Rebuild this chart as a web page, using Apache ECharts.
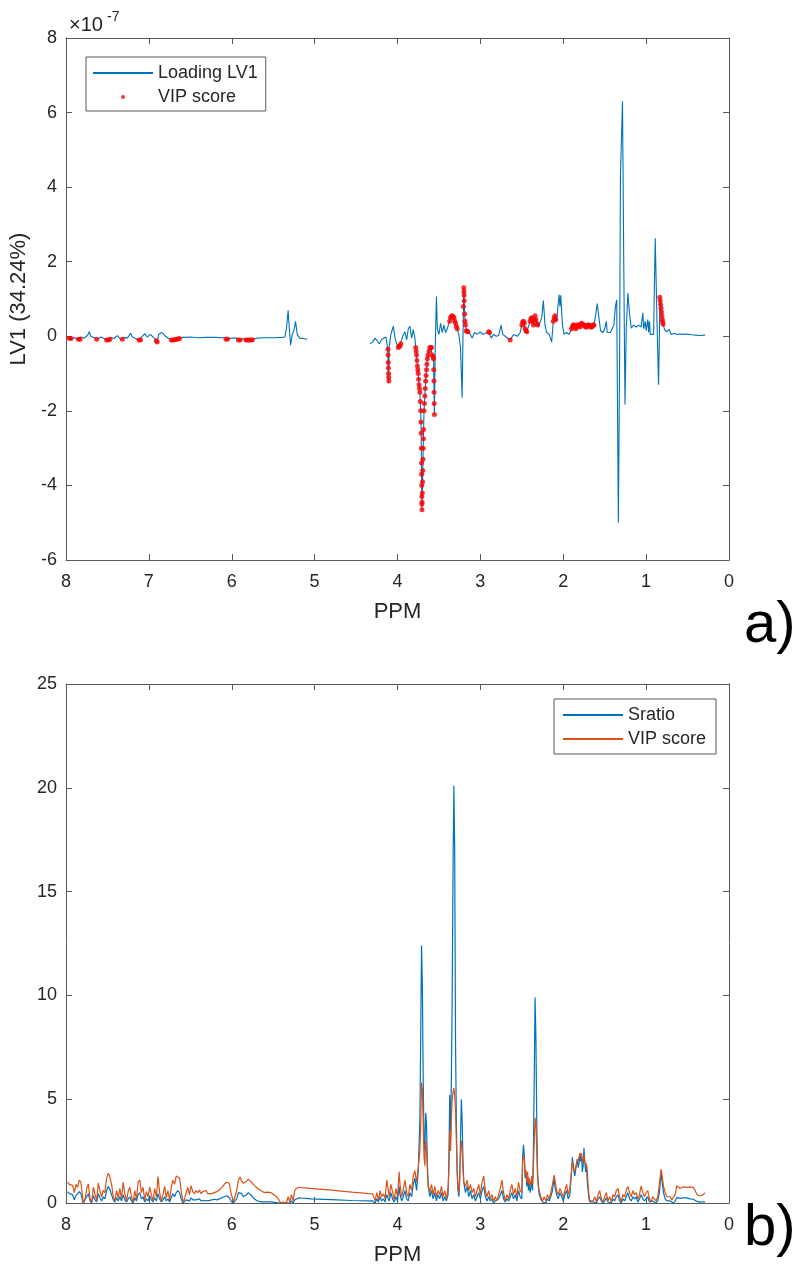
<!DOCTYPE html>
<html>
<head>
<meta charset="utf-8">
<script src="https://cdn.jsdelivr.net/npm/echarts@6/dist/echarts.min.js"></script>
<style>
html,body{margin:0;padding:0;background:#fff;}
#chart{width:802px;height:1267px;}
</style>
</head>
<body>
<div id="chart"></div>
<script>
// ---------- Panel a) : Loading LV1 (values in units of 1e-7) ----------
const lvPpm = [7.98,7.94,7.90,7.86,7.82,7.78,7.74,7.72,7.70,7.66,7.62,7.58,7.54,7.50,7.46,7.42,7.38,7.34,7.30,7.26,7.22,7.20,7.16,7.12,7.08,7.05,7.02,6.98,6.94,6.90,6.88,6.84,6.80,6.76,6.72,6.68,6.64,6.60,6.55,6.50,6.40,6.30,6.20,6.10,6.06,6.00,5.94,5.90,5.86,5.82,5.78,5.74,5.70,5.60,5.50,5.40,5.36,5.34,5.32,5.31,5.29,5.27,5.25,5.23,5.21,5.18,5.14,5.09,
  4.70,
  4.33,4.30,4.27,4.25,4.22,4.19,4.17,4.14,4.12,4.115,4.11,4.105,4.10,4.08,4.05,4.03,4.01,3.99,3.97,3.95,3.93,3.91,3.89,3.87,3.85,3.83,3.81,3.79,3.78,3.77,3.76,3.75,3.74,3.73,3.72,3.715,3.705,3.70,3.69,3.68,3.67,3.66,3.65,3.64,3.62,3.60,3.58,3.565,3.555,3.545,3.53,3.52,3.50,3.48,3.46,3.44,3.42,3.40,3.38,3.36,3.34,3.32,3.30,3.28,3.26,3.24,3.22,3.21,3.20,3.195,3.19,3.18,3.17,3.15,3.12,3.10,3.07,3.04,3.00,2.97,2.94,2.90,2.87,2.84,2.81,2.78,2.75,2.73,2.69,2.64,2.60,2.55,2.52,2.50,2.48,2.46,2.44,2.42,2.40,2.38,2.36,2.34,2.32,2.30,2.28,2.26,2.24,2.22,2.20,2.17,2.15,2.14,2.12,2.10,2.08,2.06,2.05,2.04,2.03,2.01,1.99,1.96,1.93,1.90,1.88,1.86,1.84,1.82,1.80,1.78,1.76,1.74,1.72,1.70,1.68,1.66,1.64,1.62,1.59,1.57,1.55,1.52,1.50,1.48,1.47,1.45,1.43,1.41,1.39,1.37,1.355,1.345,1.335,1.33,1.32,1.31,1.30,1.285,1.27,1.255,1.24,1.22,1.20,1.18,1.15,1.12,1.09,1.06,1.04,1.03,1.01,1.00,0.98,0.97,0.96,0.95,0.93,0.91,0.89,0.87,0.85,0.84,0.835,0.82,0.81,0.795,0.78,0.76,0.74,0.72,0.70,0.68,0.66,0.63,0.60,0.55,0.50,0.45,0.40,0.35,0.29];
const lvVal = [-0.05,-0.07,-0.03,-0.08,-0.02,-0.05,0.02,0.12,0.0,-0.04,-0.08,-0.02,-0.06,-0.1,-0.03,-0.06,0.02,-0.08,-0.03,-0.05,0.08,-0.02,-0.06,-0.1,0.0,0.07,-0.02,0.05,-0.04,-0.15,0.06,0.1,0.0,-0.06,-0.1,-0.08,-0.06,-0.03,-0.03,-0.02,-0.04,-0.03,-0.03,-0.04,-0.08,-0.05,-0.05,-0.1,-0.06,-0.1,-0.1,-0.08,-0.05,-0.04,-0.04,-0.03,-0.02,0.2,0.7,0.35,-0.24,0.05,0.15,0.4,0.05,-0.05,-0.06,-0.08,
  null,
  -0.2,-0.15,-0.05,-0.1,-0.2,-0.08,-0.12,-0.02,-0.3,-0.6,-1.23,-0.8,-0.3,0.05,0.27,-0.05,-0.2,-0.3,-0.25,-0.1,0.05,0.12,-0.1,0.2,0.27,-0.05,0.18,-0.05,-0.3,-0.5,-0.8,-1.0,-1.3,-1.5,-2.0,-2.5,-4.65,-4.2,-3.0,-2.0,-1.6,-1.2,-0.9,-0.6,-0.4,-0.3,-0.5,-0.6,-2.1,-0.3,1.07,0.2,0.05,0.35,0.1,0.3,0.1,0.2,0.35,0.5,0.55,0.5,0.35,0.2,0.05,-0.3,-1.65,0.0,1.3,1.0,0.6,0.3,0.15,0.12,0.05,-0.05,0.1,0.05,0.12,0.05,0.08,0.12,-0.05,0.05,0.0,0.02,0.3,0.05,-0.02,-0.1,0.05,0.0,0.1,0.3,0.4,0.2,0.12,0.1,0.4,0.5,0.3,0.55,0.35,0.25,0.3,0.5,0.96,0.3,0.1,0.05,0.1,-0.15,0.4,0.55,0.4,0.9,1.12,0.8,1.1,0.3,0.05,0.1,0.05,0.2,0.3,0.25,0.25,0.3,0.25,0.35,0.3,0.28,0.25,0.3,0.28,0.25,0.3,0.4,0.88,0.5,0.15,0.1,0.2,0.4,0.1,0.15,0.1,0.05,0.3,0.8,0.98,-2.0,-5.0,-3.6,-0.5,4.3,4.25,6.3,2.0,-1.83,0.2,1.16,0.6,0.22,0.3,0.25,0.3,0.25,0.63,0.2,0.4,0.15,0.45,0.1,0.4,0.05,0.1,0.05,2.63,0.5,-1.3,0.0,1.05,0.75,0.55,0.32,0.2,0.12,0.08,0.18,0.05,0.02,0.08,0.05,0.06,0.05,0.06,0.04,0.03,0.02,0.03];

// VIP-selected variables drawn as red dots on the loading
const vipPpm = [7.96,7.94,7.85,7.83,7.63,7.51,7.49,7.47,7.32,7.12,7.10,6.91,6.90,6.73,6.71,6.69,6.67,6.65,6.63,6.07,6.05,5.92,5.90,5.83,5.81,5.79,5.77,5.75,
  4.116,4.114,4.112,4.110,4.108,4.106,4.104,3.99,3.98,3.97,3.96,
  3.78,3.775,3.77,3.765,3.76,3.755,3.75,3.745,3.74,3.735,3.73,3.725,3.72,3.717,3.714,3.712,3.710,3.709,3.708,3.707,3.706,3.705,3.703,3.70,3.697,3.695,3.692,3.69,3.687,3.685,3.68,3.675,3.67,3.665,3.66,3.655,3.65,3.645,3.64,3.63,3.62,3.61,3.60,3.59,3.58,3.57,3.565,3.563,3.561,3.559,3.557,3.555,
  3.37,3.36,3.35,3.34,3.33,3.32,3.31,3.30,3.29,3.28,3.205,3.20,3.198,3.196,3.194,3.19,3.185,3.18,3.17,3.16,3.15,
  2.90,2.89,2.64,2.50,2.49,2.48,2.47,2.46,2.45,2.44,2.40,2.39,2.38,2.37,2.36,2.35,2.34,2.33,2.32,2.31,2.12,2.11,2.10,2.09,
  1.90,1.89,1.88,1.87,1.86,1.85,1.84,1.83,1.82,1.81,1.80,1.79,1.78,1.77,1.76,1.75,1.74,1.73,1.72,1.71,1.70,1.69,1.68,1.67,1.66,1.65,1.64,1.63,
  0.835,0.83,0.825,0.82,0.815,0.81,0.805,0.80,0.795];
const vipVal = [-0.05,-0.06,-0.08,-0.08,-0.08,-0.1,-0.1,-0.08,-0.08,-0.1,-0.1,-0.12,-0.15,-0.1,-0.1,-0.09,-0.08,-0.07,-0.06,-0.08,-0.07,-0.1,-0.1,-0.1,-0.1,-0.1,-0.1,-0.09,
  -0.35,-0.5,-0.7,-0.85,-1.0,-1.1,-1.2,-0.3,-0.27,-0.26,-0.2,
  -0.3,-0.4,-0.5,-0.65,-0.8,-0.9,-1.0,-1.15,-1.3,-1.4,-1.5,-1.75,-2.0,-2.3,-2.6,-3.0,-3.4,-3.7,-4.0,-4.3,-4.5,-4.65,-4.45,-4.2,-3.9,-3.6,-3.3,-3.0,-2.75,-2.5,-2.0,-1.8,-1.6,-1.4,-1.2,-1.05,-0.9,-0.75,-0.6,-0.5,-0.4,-0.3,-0.3,-0.3,-0.5,-0.55,-0.6,-0.9,-1.2,-1.5,-1.8,-2.1,
  0.4,0.5,0.53,0.55,0.53,0.5,0.42,0.35,0.27,0.2,0.8,1.3,1.2,1.1,0.95,0.6,0.4,0.3,0.15,0.13,0.12,
  0.12,0.1,-0.1,0.3,0.38,0.4,0.35,0.2,0.15,0.12,0.4,0.48,0.5,0.4,0.3,0.45,0.55,0.45,0.35,0.3,0.4,0.5,0.55,0.45,
  0.2,0.25,0.3,0.3,0.25,0.2,0.25,0.3,0.3,0.28,0.25,0.3,0.35,0.33,0.3,0.3,0.28,0.25,0.25,0.28,0.3,0.3,0.28,0.25,0.25,0.27,0.3,0.3,
  1.05,0.95,0.85,0.75,0.65,0.55,0.45,0.38,0.32];

// ---------- Panel b) : Sratio and VIP score ----------
const bPpm = [7.98,7.96,7.94,7.92,7.90,7.88,7.86,7.84,7.82,7.80,7.79,7.77,7.75,7.73,7.71,7.69,7.67,7.65,7.63,7.61,7.59,7.57,7.55,7.53,7.51,7.49,7.47,7.45,7.43,7.41,7.39,7.37,7.35,7.33,7.31,7.29,7.27,7.25,7.23,7.21,7.19,7.17,7.15,7.13,7.11,7.09,7.07,7.05,7.03,7.01,6.99,6.97,6.95,6.93,6.91,6.89,6.87,6.85,6.83,6.81,6.79,6.77,6.75,6.73,6.71,6.69,6.67,6.65,6.63,6.61,6.59,6.57,6.55,6.53,6.51,6.49,6.47,6.45,6.43,6.41,6.39,6.37,6.35,6.33,6.31,6.29,6.27,6.24,6.21,6.18,6.15,6.12,6.09,6.06,6.03,6.01,5.98,5.96,5.94,5.92,5.90,5.88,5.86,5.84,5.82,5.80,5.78,5.76,5.73,5.70,5.67,5.63,5.60,5.57,5.53,5.50,5.46,5.43,5.41,5.38,5.36,5.34,5.32,5.30,5.28,5.26,5.24,5.22,5.19,5.15,5.10,5.05,4.80,4.55,4.35,4.30,4.27,4.25,4.23,4.21,4.19,4.17,4.15,4.13,4.12,4.10,4.08,4.06,4.04,4.02,4.00,3.98,3.97,3.95,3.93,3.91,3.89,3.87,3.85,3.83,3.81,3.79,3.77,3.75,3.73,3.72,3.71,3.70,3.69,3.68,3.67,3.66,3.65,3.64,3.63,3.61,3.59,3.57,3.55,3.53,3.51,3.49,3.47,3.45,3.43,3.41,3.39,3.38,3.37,3.36,3.35,3.34,3.33,3.32,3.31,3.30,3.29,3.28,3.27,3.26,3.25,3.24,3.23,3.22,3.21,3.20,3.18,3.16,3.14,3.12,3.10,3.08,3.06,3.04,3.02,3.00,2.98,2.96,2.94,2.92,2.90,2.88,2.86,2.84,2.82,2.80,2.78,2.76,2.74,2.72,2.70,2.68,2.66,2.64,2.62,2.60,2.58,2.56,2.54,2.52,2.50,2.49,2.48,2.47,2.46,2.45,2.44,2.43,2.42,2.41,2.40,2.39,2.38,2.37,2.36,2.35,2.34,2.33,2.32,2.31,2.30,2.29,2.27,2.25,2.23,2.21,2.19,2.17,2.15,2.13,2.11,2.10,2.08,2.06,2.04,2.02,2.00,1.98,1.96,1.94,1.92,1.90,1.89,1.88,1.87,1.86,1.85,1.84,1.83,1.82,1.81,1.80,1.79,1.78,1.77,1.76,1.75,1.74,1.73,1.72,1.71,1.70,1.69,1.68,1.66,1.64,1.62,1.60,1.58,1.56,1.54,1.52,1.50,1.48,1.46,1.44,1.42,1.40,1.38,1.36,1.34,1.32,1.30,1.28,1.26,1.24,1.22,1.20,1.18,1.16,1.14,1.12,1.10,1.08,1.06,1.04,1.02,1.00,0.98,0.96,0.94,0.92,0.90,0.88,0.86,0.84,0.82,0.81,0.79,0.77,0.75,0.73,0.71,0.69,0.67,0.65,0.63,0.61,0.59,0.57,0.55,0.53,0.51,0.49,0.47,0.45,0.43,0.41,0.39,0.37,0.35,0.33,0.31,0.29];
const sratio = [0.55,0.45,0.5,0.4,0.15,0.35,0.3,0.55,0.45,0.1,0.0,0.05,0.3,0.45,0.1,0.0,0.35,0.15,0.05,0.45,0.25,0.1,0.3,0.2,0.6,0.8,0.65,0.4,0.15,0.05,0.25,0.1,0.3,0.1,0.4,0.15,0.05,0.2,0.3,0.1,0.0,0.25,0.1,0.4,0.5,0.2,0.3,0.05,0.2,0.1,0.35,0.15,0.05,0.25,0.1,0.45,0.2,0.05,0.15,0.3,0.1,0.2,0.05,0.25,0.45,0.3,0.5,0.6,0.5,0.2,0.0,0.05,0.15,0.2,0.1,0.25,0.15,0.1,0.15,0.1,0.2,0.1,0.15,0.12,0.2,0.1,0.12,0.15,0.18,0.15,0.2,0.25,0.3,0.35,0.25,0.1,0.0,0.05,0.2,0.5,0.58,0.45,0.3,0.32,0.4,0.5,0.45,0.35,0.2,0.12,0.08,0.05,0.05,0.06,0.05,0.04,0.02,0.0,0.0,0.0,0.02,0.0,0.05,0.0,0.1,0.0,0.15,0.2,0.25,0.23,0.22,0.2,0.16,0.12,0.1,0.1,0.0,0.2,0.05,0.3,0.1,0.2,0.05,0.4,0.3,0.1,0.5,0.2,0.05,0.3,0.1,0.8,0.4,0.1,0.3,0.6,0.2,0.1,0.5,0.3,0.9,1.2,0.6,1.5,4.0,8.0,12.4,10.5,6.0,3.0,2.5,4.35,3.8,2.0,0.8,0.3,0.6,0.2,0.5,0.1,0.4,0.2,0.5,0.1,0.3,0.1,0.4,2.0,5.2,3.0,6.0,10.0,16.0,20.1,17.0,7.8,4.0,1.5,0.6,0.3,1.0,3.0,5.0,4.0,2.0,1.0,0.5,0.8,0.3,0.6,0.2,0.4,0.1,0.3,0.5,0.2,0.6,0.8,0.3,0.1,0.3,0.1,0.2,0.0,0.1,0.05,0.2,0.4,0.6,0.2,0.05,0.2,0.1,0.3,0.5,0.2,0.4,0.1,0.6,0.3,0.2,2.2,2.8,2.3,1.2,1.5,0.8,1.3,0.6,1.0,0.5,0.7,1.2,0.6,2.5,6.0,9.9,8.0,4.0,1.5,0.8,0.4,0.2,0.05,0.1,0.0,0.2,0.1,0.3,0.6,1.2,0.8,0.4,0.2,0.5,0.3,0.1,0.4,0.6,0.2,0.4,1.5,2.2,1.8,1.5,1.3,1.6,1.9,2.1,1.7,1.9,2.3,2.0,2.35,1.5,1.8,2.65,2.0,1.5,1.8,1.0,0.6,0.2,0.05,0.0,0.05,0.1,0.0,0.2,0.3,0.1,0.0,0.1,0.25,0.05,0.1,0.0,0.2,0.1,0.3,0.4,0.1,0.0,0.2,0.1,0.3,0.5,0.2,0.1,0.3,0.2,0.3,0.05,0.2,0.4,0.2,0.1,0.2,0.3,0.05,0.0,0.1,0.05,0.0,0.1,0.5,1.47,1.1,0.5,0.2,0.1,0.05,0.1,0.05,0.0,0.1,0.27,0.25,0.22,0.2,0.25,0.3,0.25,0.18,0.2,0.22,0.18,0.12,0.08,0.05,0.04,0.05,0.06,0.05];
const vipScore = [1.0,0.9,0.97,0.85,0.5,0.9,0.75,1.1,1.0,0.3,0.0,0.2,0.7,0.92,0.2,0.05,0.76,0.4,0.15,0.96,0.6,0.3,0.61,0.5,1.2,1.43,1.25,0.9,0.3,0.1,0.6,0.25,0.7,0.2,1.0,0.45,0.1,0.55,0.76,0.3,0.05,0.6,0.2,1.0,1.1,0.5,0.76,0.15,0.55,0.3,0.76,0.4,0.1,0.7,0.3,1.27,0.5,0.1,0.4,0.8,0.25,0.6,0.15,0.75,1.1,0.9,1.3,1.35,1.2,0.6,0.05,0.2,0.5,0.75,0.4,0.84,0.55,0.45,0.6,0.5,0.62,0.45,0.55,0.5,0.6,0.45,0.5,0.45,0.5,0.55,0.62,0.75,0.9,1.0,0.95,0.5,0.05,0.1,0.6,1.1,1.25,1.05,0.95,1.0,1.05,1.15,1.12,1.0,0.85,0.75,0.65,0.55,0.5,0.52,0.5,0.42,0.3,0.15,0.0,0.05,0.12,0.0,0.3,0.05,0.4,0.1,0.6,0.7,0.76,0.74,0.72,0.7,0.62,0.52,0.45,0.44,0.1,0.5,0.15,0.6,0.3,0.45,0.2,1.1,0.85,0.3,0.9,0.55,0.15,0.7,0.3,1.5,0.9,0.3,0.65,1.1,0.5,0.3,0.9,0.6,1.3,1.56,1.0,1.7,2.5,3.8,5.8,5.5,3.8,2.2,1.8,3.0,2.6,1.6,0.9,0.5,0.9,0.4,0.8,0.3,0.6,0.4,0.8,0.3,0.6,0.2,0.7,1.5,3.5,2.5,4.0,5.0,5.3,5.55,5.2,4.5,3.0,1.5,0.8,0.5,1.2,2.2,3.0,2.7,1.6,1.0,0.8,1.1,0.6,0.9,0.5,0.7,0.3,0.6,0.9,0.4,1.0,1.3,0.6,0.3,0.6,0.2,0.4,0.1,0.3,0.1,0.4,0.7,1.1,0.5,0.1,0.4,0.2,0.6,0.9,0.4,0.7,0.3,1.0,0.6,0.5,2.0,2.3,2.1,1.4,1.6,1.0,1.5,0.9,1.2,0.8,1.0,1.3,0.9,1.8,3.0,4.1,3.8,2.5,1.2,0.8,0.6,0.3,0.1,0.3,0.1,0.4,0.2,0.5,0.9,1.35,1.1,0.6,0.4,0.7,0.5,0.3,0.6,0.9,0.4,0.7,1.6,2.0,1.9,1.6,1.5,1.7,1.9,2.1,2.0,2.2,2.4,2.3,2.4,2.0,2.1,2.3,2.0,1.8,1.9,1.5,0.9,0.4,0.1,0.05,0.1,0.3,0.05,0.4,0.6,0.2,0.05,0.3,0.5,0.1,0.3,0.05,0.4,0.3,0.6,0.7,0.3,0.05,0.4,0.3,0.6,0.8,0.5,0.3,0.6,0.4,0.5,0.2,0.4,0.83,0.5,0.3,0.5,0.6,0.2,0.05,0.3,0.2,0.1,0.3,0.9,1.63,1.4,0.8,0.5,0.3,0.25,0.3,0.15,0.1,0.4,0.83,0.75,0.7,0.72,0.78,0.8,0.75,0.7,0.78,0.83,0.75,0.6,0.45,0.35,0.27,0.35,0.42,0.48];

const xTicks = {min: 0, max: 8, interval: 1};
const yTicksA = {min: -6, max: 8, interval: 2};
const yTicksB = {min: 0, max: 25, interval: 5};

const AX = '#595959', TXT = '#262626', FONT = "'Liberation Sans', Arial, sans-serif";

function xAx(grid, pos, labels) {
  return {
    type: 'value', gridIndex: grid, position: pos, inverse: true,
    min: xTicks.min, max: xTicks.max, interval: xTicks.interval,
    axisLine: {show: true, onZero: false, lineStyle: {color: AX, width: 1}},
    axisTick: {show: true, inside: true, length: 6, lineStyle: {color: AX}},
    axisLabel: {show: labels, color: TXT, fontSize: 18, fontFamily: FONT, margin: 13},
    splitLine: {show: false},
    name: labels ? 'PPM' : '', nameLocation: 'middle', nameGap: 41,
    nameTextStyle: {color: TXT, fontSize: 22, fontFamily: FONT}
  };
}
function yAx(grid, pos, labels, t, name) {
  return {
    type: 'value', gridIndex: grid, position: pos,
    min: t.min, max: t.max, interval: t.interval,
    axisLine: {show: true, onZero: false, lineStyle: {color: AX, width: 1}},
    axisTick: {show: true, inside: true, length: 6, lineStyle: {color: AX}},
    axisLabel: {show: labels, color: TXT, fontSize: 18, fontFamily: FONT, margin: 9},
    splitLine: {show: false},
    name: name || '', nameLocation: 'middle', nameGap: 33,
    nameTextStyle: {color: TXT, fontSize: 22, fontFamily: FONT}
  };
}

const noDot = {opacity: 0};
const chart = echarts.init(document.getElementById('chart'), null, {renderer: 'canvas'});
chart.setOption({
  animation: false,
  backgroundColor: '#fff',
  grid: [
    {left: 66, top: 38, width: 663, height: 522},
    {left: 66, top: 684, width: 663, height: 522}
  ],
  xAxis: [xAx(0, 'bottom', true), xAx(0, 'top', false), xAx(1, 'bottom', true), xAx(1, 'top', false)],
  yAxis: [yAx(0, 'left', true, yTicksA, 'LV1 (34.24%)'), yAx(0, 'right', false, yTicksA),
          yAx(1, 'left', true, yTicksB), yAx(1, 'right', false, yTicksB)],
  legend: [
    {
      data: [{name: 'Loading LV1', itemStyle: noDot}, 'VIP score'], orient: 'vertical', left: 86, top: 57,
      itemWidth: 60, itemHeight: 4, itemGap: 6,
      padding: [7, 8, 5, 6], borderColor: '#595959', borderWidth: 1, backgroundColor: '#fff',
      textStyle: {color: TXT, fontSize: 18, fontFamily: FONT, lineHeight: 18},
      selectedMode: false
    },
    {
      data: [{name: 'Sratio', itemStyle: noDot}, {name: 'VIP score ', itemStyle: noDot}], orient: 'vertical', left: 554, top: 699,
      itemWidth: 60, itemHeight: 4, itemGap: 6,
      padding: [7, 10, 6, 8], borderColor: '#595959', borderWidth: 1, backgroundColor: '#fff',
      textStyle: {color: TXT, fontSize: 18, fontFamily: FONT, lineHeight: 18},
      formatter: function (n) { return n.trim(); },
      selectedMode: false
    }
  ],
  graphic: [
    {type: 'text', left: 69, top: 15, style: {text: '×10', fontSize: 20, fontFamily: FONT, fill: TXT}},
    {type: 'text', left: 107, top: 10, style: {text: '-7', fontSize: 14, fontFamily: FONT, fill: TXT}},
    {type: 'text', x: 744, y: 626, style: {text: 'a)', fontSize: 58, fontFamily: FONT, fill: '#000', verticalAlign: 'middle'}},
    {type: 'text', x: 744, y: 1229, style: {text: 'b)', fontSize: 58, fontFamily: FONT, fill: '#000', verticalAlign: 'middle'}}
  ],
  series: [
    {
      name: 'Loading LV1', type: 'line', xAxisIndex: 0, yAxisIndex: 0,
      data: lvPpm.map((p, i) => [p, lvVal[i]]),
      symbol: 'none', showSymbol: false, connectNulls: false, color: '#0072BD',
      lineStyle: {width: 1.1, color: '#0072BD'}, z: 2
    },
    {
      name: 'VIP score', type: 'scatter', xAxisIndex: 0, yAxisIndex: 0,
      data: vipPpm.map((p, i) => [p, vipVal[i]]),
      symbol: 'circle', symbolSize: 5, itemStyle: {color: '#FF0000'}, z: 3
    },
    {
      name: 'Sratio', type: 'line', xAxisIndex: 2, yAxisIndex: 2,
      data: bPpm.map((p, i) => [p, sratio[i]]),
      symbol: 'none', showSymbol: false, color: '#0072BD',
      lineStyle: {width: 1.2, color: '#0072BD'}, z: 2
    },
    {
      name: 'VIP score ', type: 'line', xAxisIndex: 2, yAxisIndex: 2,
      data: bPpm.map((p, i) => [p, vipScore[i]]),
      symbol: 'none', showSymbol: false, color: '#D95319',
      lineStyle: {width: 1.2, color: '#D95319'}, z: 3
    }
  ]
});
</script>
</body>
</html>
